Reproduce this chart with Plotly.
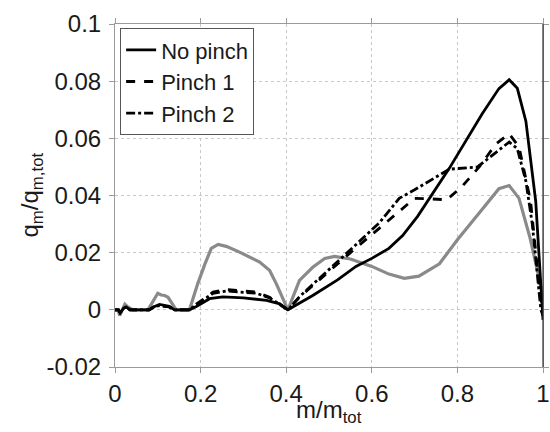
import plotly.graph_objects as go

# ---- data ----
x_nopinch = [0, 0.008, 0.012, 0.02, 0.026, 0.035, 0.08, 0.09, 0.104, 0.118, 0.127, 0.139, 0.174, 0.19,
             0.209, 0.221, 0.252, 0.3, 0.354, 0.385, 0.404, 0.462, 0.52, 0.563, 0.6, 0.64, 0.672, 0.707, 0.781,
             0.858, 0.897, 0.921, 0.94, 0.96, 0.983, 1.0]
y_nopinch = [0, 0, -0.001, 0.0005, 0.001, 0, 0, 0.001, 0.0019, 0.0015, 0.0012, 0, 0, 0.0012,
             0.003, 0.0039, 0.0045, 0.0042, 0.0033, 0.0021, 0, 0.005, 0.0105, 0.0152, 0.018, 0.0215, 0.026, 0.0327, 0.0495,
             0.0686, 0.0774, 0.0805, 0.0775, 0.066, 0.038, -0.0035]

x_pinch1 = [0, 0.008, 0.012, 0.02, 0.026, 0.035, 0.08, 0.09, 0.104, 0.118, 0.127, 0.139, 0.174, 0.19,
            0.217, 0.229, 0.26, 0.33, 0.361, 0.385, 0.404, 0.431, 0.5, 0.55, 0.618, 0.66, 0.7, 0.74,
            0.775, 0.81, 0.851, 0.89, 0.921, 0.944, 0.971, 0.99, 1.0]
y_pinch1 = [0, 0, -0.001, 0.0005, 0.001, 0, 0, 0.001, 0.0015, 0.0012, 0.001, 0, 0, 0.002,
            0.005, 0.0062, 0.0071, 0.0062, 0.0044, 0.002, 0, 0.0044, 0.0135, 0.020, 0.0286, 0.034, 0.039, 0.0388,
            0.0385, 0.043, 0.050, 0.058, 0.0616, 0.057, 0.038, 0.01, -0.002]

x_pinch2 = [0, 0.008, 0.012, 0.02, 0.026, 0.035, 0.08, 0.09, 0.104, 0.118, 0.127, 0.139, 0.174, 0.19,
            0.217, 0.229, 0.26, 0.33, 0.361, 0.385, 0.404, 0.431, 0.5, 0.55, 0.618, 0.664, 0.7, 0.781,
            0.847, 0.88, 0.921, 0.94, 0.96, 0.975, 0.995, 1.0]
y_pinch2 = [0, 0, -0.001, 0.0005, 0.001, 0, 0, 0.001, 0.0015, 0.0012, 0.001, 0, 0, 0.0018,
            0.0045, 0.0058, 0.0066, 0.0058, 0.0042, 0.002, 0, 0.0046, 0.014, 0.021, 0.0305, 0.039, 0.042, 0.0492,
            0.050, 0.054, 0.0587, 0.0564, 0.045, 0.03, 0.0, -0.002]

x_gray = [0, 0.007, 0.011, 0.018, 0.023, 0.03, 0.042, 0.077, 0.09, 0.1, 0.108, 0.116, 0.124, 0.134,
          0.143, 0.174, 0.193, 0.21, 0.225, 0.241, 0.26, 0.291, 0.338, 0.361, 0.377, 0.404, 0.431, 0.462,
          0.49, 0.513, 0.55, 0.6, 0.64, 0.676, 0.71, 0.758, 0.8, 0.85, 0.897, 0.921, 0.944, 0.97, 1.0]
y_gray = [0, 0, -0.002, 0.0, 0.002, 0.001, 0, 0, 0.003, 0.0058, 0.0052, 0.005, 0.0044, 0.002,
          0, 0, 0.009, 0.016, 0.0215, 0.0229, 0.0222, 0.0202, 0.0167, 0.0138, 0.0091, 0, 0.0103, 0.0149,
          0.0180, 0.0187, 0.0178, 0.0152, 0.0125, 0.011, 0.0118, 0.0161, 0.0245, 0.0337, 0.0424, 0.0435,
          0.039, 0.025, 0.005]

legend_names = ["No pinch", "Pinch 1", "Pinch 2"]
x_title = "m/m<sub>tot</sub>"
y_title = "q<sub>m</sub>/q<sub>m,tot</sub>"
x_ticks = [0, 0.2, 0.4, 0.6, 0.8, 1]
x_ticklabels = ["0", "0.2", "0.4", "0.6", "0.8", "1"]
y_ticks = [-0.02, 0, 0.02, 0.04, 0.06, 0.08, 0.1]
y_ticklabels = ["-0.02", "0", "0.02", "0.04", "0.06", "0.08", "0.1"]

FONT = "Liberation Sans, Arial, sans-serif"
TXT = "#1a1a1a"

fig = go.Figure()
fig.add_trace(go.Scatter(x=x_gray, y=y_gray, mode="lines", showlegend=False,
                         line=dict(color="#8a8a8a", width=3.2)))
fig.add_trace(go.Scatter(x=x_nopinch, y=y_nopinch, mode="lines", name=legend_names[0],
                         line=dict(color="black", width=2.8)))
fig.add_trace(go.Scatter(x=x_pinch1, y=y_pinch1, mode="lines", name=legend_names[1],
                         line=dict(color="black", width=2.8, dash="dash")))
fig.add_trace(go.Scatter(x=x_pinch2, y=y_pinch2, mode="lines", name=legend_names[2],
                         line=dict(color="black", width=2.8, dash="dashdot")))

axis_common = dict(showline=True, linecolor="#9a9a9a", linewidth=1, mirror="ticks",
                   ticks="outside", ticklen=5, tickcolor="#9a9a9a",
                   showgrid=True, gridcolor="#c8c8c8", griddash="dot", gridwidth=1,
                   zeroline=False, automargin=False,
                   tickfont=dict(family=FONT, size=24, color=TXT))

fig.update_xaxes(range=[0, 1], tickvals=x_ticks, ticktext=x_ticklabels, **axis_common)
fig.update_yaxes(range=[-0.02, 0.1], tickvals=y_ticks, ticktext=y_ticklabels,
                 ticklabelstandoff=3, **axis_common)

fig.add_annotation(text=x_title, xref="paper", yref="paper", x=0.5, y=0,
                   xanchor="center", yanchor="top", yshift=-27, showarrow=False,
                   font=dict(family=FONT, size=24, color=TXT))
fig.add_annotation(text=y_title, xref="paper", yref="paper", x=0, y=0.5,
                   xanchor="center", yanchor="middle", xshift=-84, textangle=-90, showarrow=False,
                   font=dict(family=FONT, size=24, color=TXT))

fig.add_shape(type="line", xref="paper", yref="paper", x0=1, x1=1, y0=0, y1=1,
              line=dict(color="#333333", width=1.2))

fig.update_layout(
    template="none",
    width=550, height=432,
    margin=dict(l=115, r=7, t=24, b=65),
    plot_bgcolor="white", paper_bgcolor="white",
    font=dict(family=FONT, size=24, color=TXT),
    legend=dict(x=0.012, y=0.988, xanchor="left", yanchor="top",
                bgcolor="white", bordercolor="#555555", borderwidth=1,
                font=dict(family=FONT, size=22, color=TXT),
                tracegroupgap=0, itemwidth=30),
)

fig.write_html("out.html", config={"displayModeBar": False},
               post_script="document.body.style.margin='0';document.body.style.overflow='hidden';")
